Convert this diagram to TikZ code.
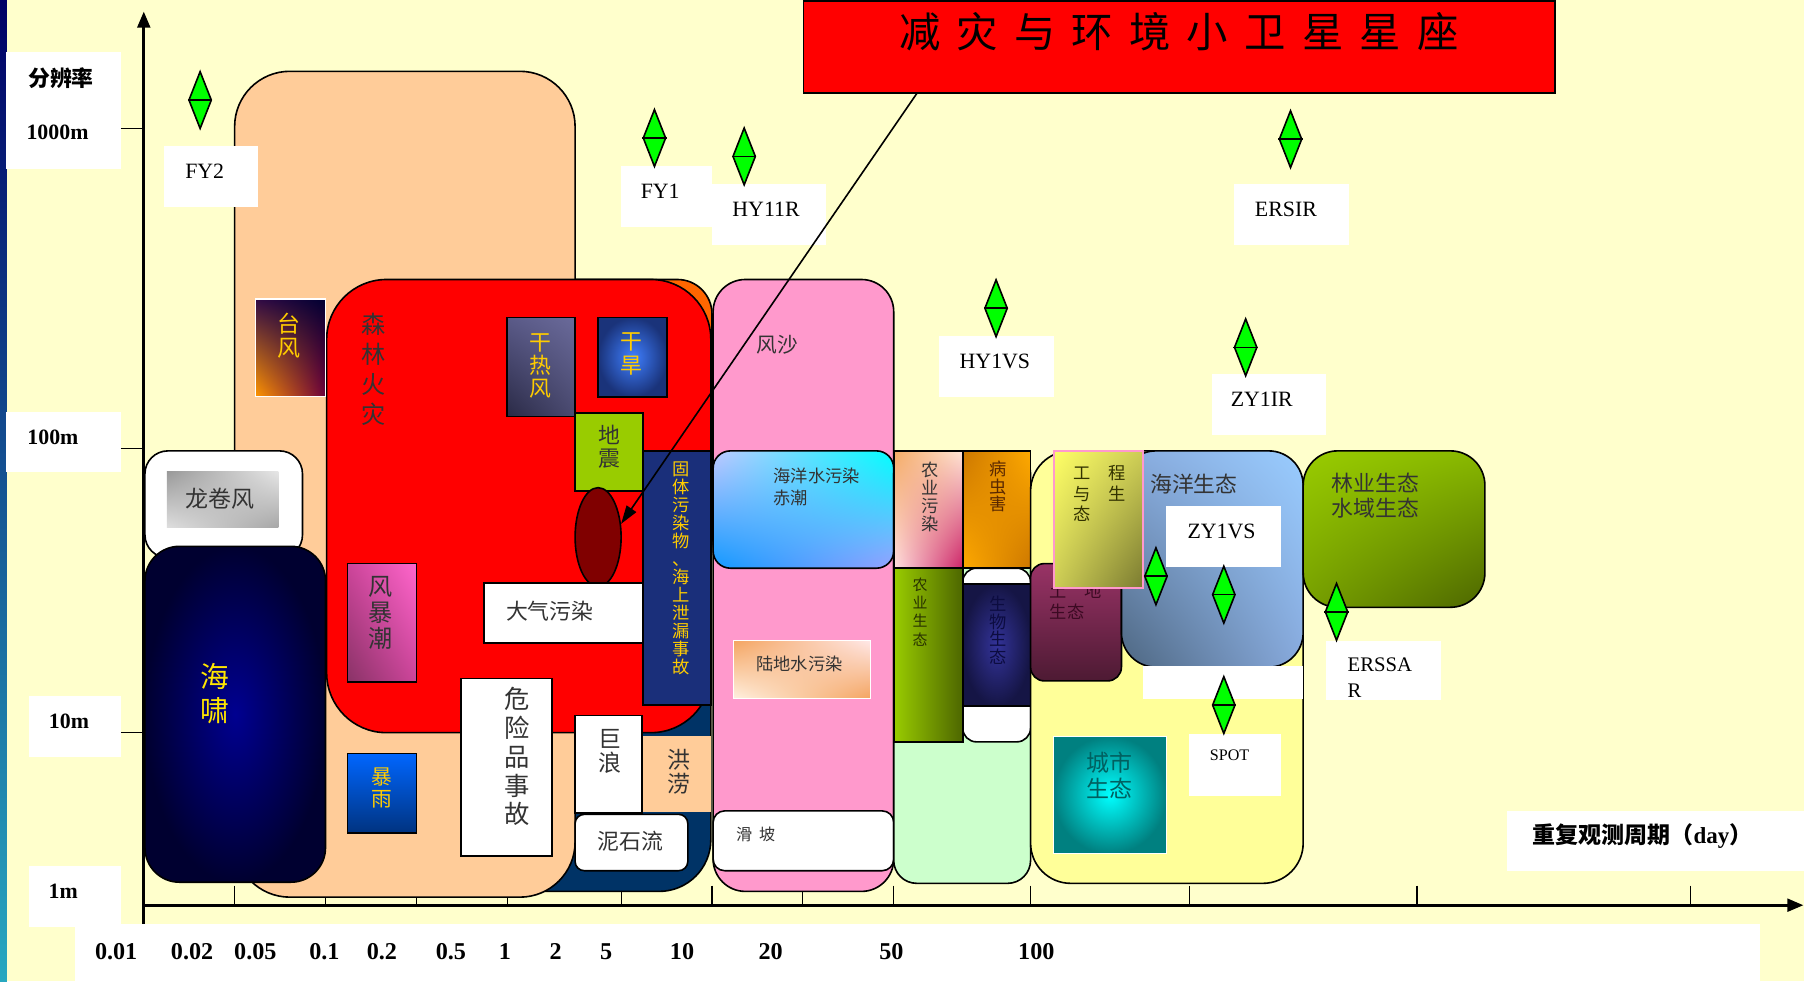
\documentclass[tikz,border=0pt]{standalone}
\usepackage{fontspec}
\setmainfont{Liberation Serif}
\newfontfamily\cjk{Noto Sans CJK SC}
\usetikzlibrary{shapes.geometric}
\usetikzlibrary{arrows.meta}
\usetikzlibrary{shadings}

\definecolor{paper}{HTML}{FFFFCC}
\definecolor{peach}{HTML}{FFCC99}
\definecolor{fire}{HTML}{FF0000}
\definecolor{ember}{HTML}{FF6600}
\definecolor{deepsea}{HTML}{003366}
\definecolor{rose}{HTML}{FF99CC}
\definecolor{mint}{HTML}{CCFFCC}
\definecolor{lemon}{HTML}{FFFF99}
\definecolor{satgreen}{HTML}{00FF00}
\definecolor{gold}{HTML}{FFCC00}
\definecolor{ink}{HTML}{333333}
\definecolor{blood}{HTML}{800000}
\definecolor{quake}{HTML}{99CC00}

\begin{document}
\begin{tikzpicture}[x=1pt, y=-1pt, line width=1.4pt,
  sat/.style={diamond, draw, fill=satgreen, minimum width=20pt,
    minimum height=50pt, inner sep=0pt},
  tag/.style={font=\fontsize{19}{23}\selectfont, inner sep=0pt},
  zh/.style 2 args={font=\cjk\fontsize{#1}{#2}\selectfont, inner sep=0pt,
    align=center, text=ink},
  axl/.style={font=\bfseries\fontsize{19}{21}\selectfont, inner sep=0pt},
  num/.style={font=\bfseries\fontsize{21}{23}\selectfont, inner sep=0pt}]

% paper and side band
\fill[paper] (0,0) rectangle (1568,853);
\shade[top color=blue!40!black, middle color={rgb,255:red,10;green,50;blue,150},
  bottom color={rgb,255:red,40;green,168;blue,192}] (0,0) rectangle (6,853);

% cards behind the axis labels
\fill[white] (5,45) rectangle (105,147);
\fill[white] (5,358) rectangle (105,410);
\fill[white] (25,605) rectangle (105,658);
\fill[white] (25,753) rectangle (105,806);
\fill[white] (65,803) rectangle (1530,853);
\fill[white] (1310,705) rectangle (1568,757);

\foreach \x in {204,283,362,441,540,619,698,777,896,1034,1232,1470}
  \draw[line width=1pt] (\x,770) -- (\x,787);

% disaster block
\filldraw[fill=deepsea, rounded corners=45pt] (400,300) rectangle (618,775);
\filldraw[fill=ember, rounded corners=30pt] (300,243) rectangle (619,500);
\filldraw[fill=peach, rounded corners=48pt] (204,62) rectangle (500,780);
\filldraw[fill=fire, rounded corners=52pt] (284,243) rectangle (618,637);
\node[zh={21}{26}, text=black!80] (forest) at (325,321) {森\\林\\火\\灾};

\shadedraw[draw=white, line width=1pt,
  upper left={rgb,255:red,50;green,10;blue,70}, upper right={rgb,255:red,0;green,0;blue,50},
  lower left={rgb,255:red,255;green,150;blue,0}, lower right={rgb,255:red,110;green,0;blue,60}]
  (222,260) rectangle (283,345);
\node[zh={20}{21}, text=gold] (typhoon) at (251,292) {台\\风};

\shadedraw[upper left={rgb,255:red,90;green,90;blue,136}, upper right={rgb,255:red,106;green,106;blue,154},
  lower left={rgb,255:red,42;green,42;blue,70}, lower right={rgb,255:red,74;green,74;blue,112}]
  (441,276) rectangle (500,362);
\node[zh={19}{20}, text=gold] (hotwind) at (470,318) {干\\热\\风};

\shadedraw[inner color={rgb,255:red,63;green,127;blue,255}, outer color={rgb,255:red,26;green,51;blue,122}]
  (520,276) rectangle (580,345);
\node[zh={19}{21}, text=gold] (drought) at (549,308) {干\\旱};

\filldraw[fill=quake] (500,359) rectangle (559,427);
\node[zh={19}{20}] (quake) at (530,388) {地\\震};

\node[ellipse, draw, fill=blood, minimum width=40pt, minimum height=86pt, inner sep=0pt]
  (oval) at (520,467) {};

\shadedraw[left color={rgb,255:red,26;green,47;blue,122}, middle color={rgb,255:red,51;green,102;blue,255},
  right color={rgb,255:red,26;green,47;blue,122}] (559,392) rectangle (618,613);
\node[zh={15}{15.7}, text=gold] (spill) at (592,494)
  {固\\体\\污\\染\\物\\、\\海\\上\\泄\\漏\\事\\故};

\filldraw[fill=white] (421,507) rectangle (559,559);
\node[zh={19}{21}] (smog) at (478,531) {大气污染};

\shadedraw[upper left={rgb,255:red,204;green,68;blue,153}, upper right={rgb,255:red,255;green,102;blue,204},
  lower left={rgb,255:red,136;green,51;blue,102}, lower right={rgb,255:red,204;green,68;blue,153}]
  (302,490) rectangle (362,593);
\node[zh={21}{22.5}] (surge) at (331,533) {风\\暴\\潮};

\filldraw[fill=white] (401,590) rectangle (480,744);
\node[zh={22}{25}] (hazmat) at (450,658) {危\\险\\品\\事\\故};

\shadedraw[top color={rgb,255:red,0;green,102;blue,255}, bottom color={rgb,255:red,0;green,51;blue,128}]
  (302,655) rectangle (362,724);
\node[zh={18}{19}, text=gold] (rain) at (332,685) {暴\\雨};

\filldraw[fill=white] (500,622) rectangle (558,707);
\node[zh={20}{21}] (wave) at (530,653) {巨\\浪};
\fill[peach] (559,640) rectangle (618,706);
\node[zh={20}{21}] (flood) at (590,671) {洪\\涝};
\filldraw[fill=white, rounded corners=8pt] (500,708) rectangle (598,757);
\node[zh={19}{21}] (debris) at (548,731) {泥石流};

% tornado and tsunami
\filldraw[fill=white, rounded corners=20pt] (126,392) rectangle (263,485);
\shade[upper left=gray!80, upper right=gray!20, lower left=gray!25, lower right=gray!70]
  (145,410) rectangle (242,459);
\node[zh={20}{21}] (tornado) at (191,434) {龙卷风};
\shadedraw[inner color={rgb,255:red,0;green,0;blue,144}, outer color={rgb,255:red,0;green,0;blue,48},
  rounded corners=30pt] (126,475) rectangle (283,767);
\node[zh={25}{30}, text={rgb,255:red,255;green,230;blue,0}] (tsunami) at (187,603) {海\\啸};

% sand and water column
\filldraw[fill=rose, rounded corners=28pt] (620,243) rectangle (777,775);
\node[zh={18}{20}] (sandstorm) at (676,300) {风沙};
\shadedraw[rounded corners=15pt,
  upper left={rgb,255:red,192;green,200;blue,255}, upper right={rgb,255:red,0;green,255;blue,255},
  lower left={rgb,255:red,17;green,153;blue,255}, lower right={rgb,255:red,150;green,160;blue,255}]
  (620,392) rectangle (777,494);
\node[zh={15}{19}, align=left, anchor=west] (redtide) at (672,423) {海洋水污染\\赤潮};
\shadedraw[draw=white, line width=1pt,
  upper left={rgb,255:red,244;green,164;blue,96}, upper right={rgb,255:red,255;green,232;blue,232},
  lower left={rgb,255:red,255;green,240;blue,224}, lower right={rgb,255:red,244;green,164;blue,96}]
  (638,557) rectangle (757,607);
\node[zh={15}{17}] (landwater) at (695,577) {陆地水污染};
\filldraw[fill=white, rounded corners=10pt] (620,705) rectangle (777,757);
\node[zh={14}{16}] (landslide) at (657,725) {滑\hspace{6pt}坡};

% farming column
\filldraw[fill=mint, rounded corners=20pt] (777,392) rectangle (896,768);
\filldraw[fill=white, rounded corners=12pt] (837,494) rectangle (896,645);
\shadedraw[upper left={rgb,255:red,244;green,170;blue,100}, upper right={rgb,255:red,255;green,230;blue,215},
  lower left={rgb,255:red,255;green,225;blue,225}, lower right={rgb,255:red,204;green,34;blue,102}]
  (777,392) rectangle (837,494);
\node[zh={15}{15.7}] (farmsmog) at (809,432) {农\\业\\污\\染};
\shadedraw[upper left={rgb,255:red,204;green,119;blue,0}, upper right={rgb,255:red,255;green,170;blue,0},
  lower left={rgb,255:red,255;green,170;blue,0}, lower right={rgb,255:red,204;green,119;blue,0}]
  (837,392) rectangle (896,494);
\node[zh={15}{15}, text={rgb,255:red,90;green,40;blue,0}] (pests) at (868,423) {病\\虫\\害};
\shadedraw[left color={rgb,255:red,153;green,204;blue,0}, right color={rgb,255:red,77;green,102;blue,0}]
  (777,494) rectangle (837,645);
\node[zh={13}{16}, text={rgb,255:red,40;green,50;blue,0}] (farmeco) at (800,532) {农\\业\\生\\态};
\shadedraw[inner color={rgb,255:red,51;green,51;blue,153}, outer color={rgb,255:red,21;green,21;blue,69}]
  (837,508) rectangle (896,614);
\node[zh={15}{15.5}, text={rgb,255:red,12;green,12;blue,64}] (bioeco) at (868,548) {生\\物\\生\\态};

% ecology block
\filldraw[fill=lemon, rounded corners=35pt] (896,392) rectangle (1133,768);
\shadedraw[rounded corners=12pt, top color={rgb,255:red,153;green,51;blue,102},
  bottom color={rgb,255:red,77;green,26;blue,51}] (896,490) rectangle (975,592);
\node[zh={15}{18}, align=left, anchor=west, text={rgb,255:red,60;green,10;blue,35}] (landeco)
  at (912,523) {土\hspace{15pt}地\\生态};
\shadedraw[rounded corners=30pt,
  upper left={rgb,255:red,136;green,170;blue,221}, upper right={rgb,255:red,153;green,204;blue,255},
  lower left={rgb,255:red,77;green,102;blue,128}, lower right={rgb,255:red,136;green,170;blue,221}]
  (975,392) rectangle (1133,580);
\node[zh={19}{21}] (seaeco) at (1038,421) {海洋生态};
\shadedraw[draw=rose, line width=1.6pt,
  upper left={rgb,255:red,255;green,255;blue,102}, upper right={rgb,255:red,204;green,204;blue,85},
  lower left={rgb,255:red,204;green,204;blue,85}, lower right={rgb,255:red,122;green,122;blue,48}]
  (916,392) rectangle (994,511);
\node[zh={15}{18}, align=left, anchor=west, text={rgb,255:red,50;green,50;blue,0}] (engeco)
  at (933,429) {工\hspace{15pt}程\\与\hspace{15pt}生\\态};
\shadedraw[draw=white, line width=1pt, inner color={rgb,255:red,0;green,255;blue,255},
  outer color={rgb,255:red,0;green,128;blue,128}] (916,640) rectangle (1014,742);
\node[zh={20}{23}, text={rgb,255:red,0;green,96;blue,96}] (cityeco) at (965,674) {城市\\生态};
\fill[white] (994,579) rectangle (1133,608);
\shadedraw[rounded corners=30pt,
  upper left={rgb,255:red,153;green,204;blue,0}, upper right={rgb,255:red,136;green,184;blue,0},
  lower left={rgb,255:red,119;green,160;blue,0}, lower right={rgb,255:red,77;green,102;blue,0}]
  (1133,392) rectangle (1291,528);
\node[zh={19}{22}] (foresteco) at (1196,431) {林业生态\\水域生态};

% satellite cards
\fill[white] (143,127) rectangle (224,180);
\fill[white] (540,144) rectangle (619,197);
\fill[white] (619,160) rectangle (718,213);
\fill[white] (816,292) rectangle (916,345);
\fill[white] (1073,160) rectangle (1173,213);
\fill[white] (1054,325) rectangle (1153,378);
\fill[white] (1014,440) rectangle (1114,493);
\fill[white] (1034,638) rectangle (1114,692);
\fill[white] (1153,557) rectangle (1253,609);
\node[tag] (fy2-lab) at (178,149) {FY2};
\node[tag] (fy1-lab) at (574,166) {FY1};
\node[tag] (hy11r-lab) at (666,182) {HY11R};
\node[tag] (hy1vs-lab) at (865,314) {HY1VS};
\node[tag] (ersir-lab) at (1118,182) {ERSIR};
\node[tag] (zy1ir-lab) at (1097,347) {ZY1IR};
\node[tag] (zy1vs-lab) at (1062,462) {ZY1VS};
\node[tag, font=\fontsize{14}{16}\selectfont] (spot-lab) at (1069,657) {SPOT};
\node[tag, align=left, anchor=west, font=\fontsize{18}{23}\selectfont] (erssar-lab)
  at (1171,589) {ERSSA\\R};

\foreach \n/\x/\y in {fy2/174/87, fy1/569/120, hy11r/647/136, hy1vs/866/268,
    ersir/1122/121, zy1ir/1083/302, zy1vsa/1005/501, zy1vsb/1064/517,
    spot/1064/613, erssar/1162/532}
  {\node[sat] (\n) at (\x,\y) {};
   \draw (\n.west) -- (\n.east);}

% axes
\draw[line width=2.6pt, -{Triangle[length=14pt,width=11pt]}] (125,803) -- (125,10);
\draw[line width=2.6pt, -{Triangle[length=14pt,width=11pt]}] (125,787) -- (1568,787);
\foreach \y in {112,390,637}
  \draw[line width=1pt] (105,\y) -- (125,\y);

\node[axl, font=\cjk\bfseries\fontsize{19}{21}\selectfont] (res) at (53,68) {分辨率};
\node[axl] (r1000) at (50,115) {1000m};
\node[axl] (r100) at (46,380) {100m};
\node[axl] (r10) at (60,627) {10m};
\node[axl] (r1) at (55,775) {1m};
\node[axl, font=\bfseries\fontsize{20}{22}\selectfont] (period) at (1428,727)
  {{\cjk 重复观测周期（}day{\cjk ）}};

\foreach \t/\x in {0.01/101, 0.02/167, 0.05/222, 0.1/282, 0.2/332, 0.5/392,
    1/439, 2/483, 5/527, 10/593, 20/670, 50/775, 100/901}
  \node[num] (n\x) at (\x,827) {\t};

% title and its pointer
\node[draw, fill=fire, minimum width=653pt, minimum height=80pt, inner sep=0pt,
  anchor=north west] (title) at (698,0) {};
\node[zh={36}{40}, text=black] (title-text) at (1025,28)
  {减\hspace{14pt}灾\hspace{14pt}与\hspace{14pt}环\hspace{14pt}境\hspace{14pt}小\hspace{14pt}卫\hspace{14pt}星\hspace{14pt}星\hspace{14pt}座};
\draw[-{Triangle[length=16pt,width=10pt]}] ([xshift=99pt]title.south west) -- (oval.30);
\end{tikzpicture}
\end{document}
